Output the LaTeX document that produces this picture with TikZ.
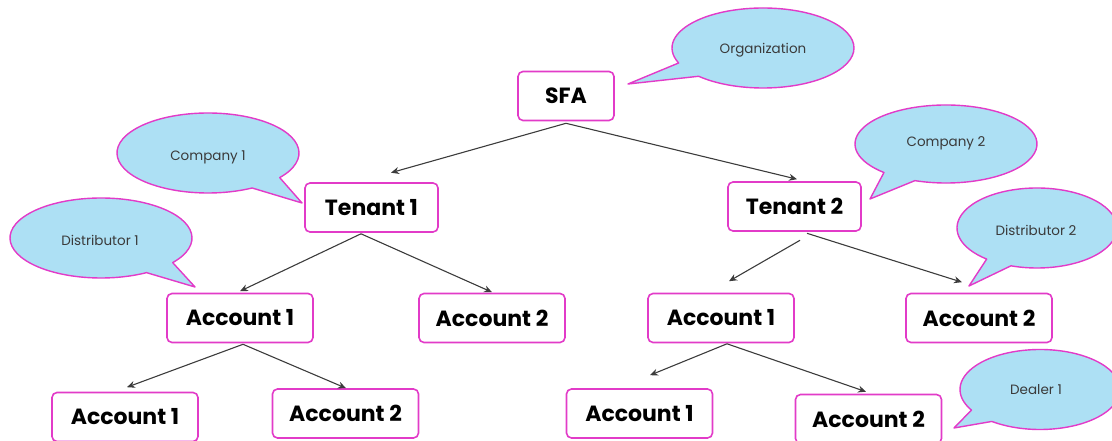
\documentclass[tikz,border=0pt]{standalone}
\usepackage{fontspec}
\setmainfont{Poppins}
\usetikzlibrary{arrows.meta,calc}

\definecolor{rim}{HTML}{E23BC8}
\definecolor{sky}{HTML}{ADE0F4}
\definecolor{ink}{HTML}{3A3A3A}
\definecolor{wire}{HTML}{3C3C3C}

\tikzset{
  unit/.style={draw=rim, line width=1.6pt, rounded corners=5pt, fill=white,
    minimum height=49pt, inner sep=0pt, font=\fontsize{22}{24}\selectfont\bfseries},
  rootbox/.style={unit, minimum width=96pt},
  tenantbox/.style={unit, minimum width=133pt},
  accountbox/.style={unit, minimum width=146pt},
  callout/.style={draw=rim, fill=sky, line width=1.4pt, line join=round},
  calltext/.style={text=ink, font=\fontsize{13.5}{15}\selectfont},
  link/.style={draw=wire, line width=1.1pt, -{Stealth[length=8pt,width=7pt]}}
}

\begin{document}
\begin{tikzpicture}[x=1pt,y=1pt]
\useasboundingbox (0,0) rectangle (1112,441);

% hierarchy boxes
\node[rootbox]    (sfa) at (566,345)   {SFA};
\node[tenantbox]  (t1)  at (371.5,233.5) {Tenant 1};
\node[tenantbox]  (t2)  at (794.5,234.5) {Tenant 2};
\node[accountbox] (a1)  at (240,123)   {Account 1};
\node[accountbox] (a2)  at (492,123)   {Account 2};
\node[accountbox] (b1)  at (721,123)   {Account 1};
\node[accountbox] (b2)  at (979,123)   {Account 2};
\node[accountbox] (c1)  at (125,24)    {Account 1};
\node[accountbox] (c2)  at (345.5,27.5) {Account 2};
\node[accountbox] (d1)  at (639.5,27.5) {Account 1};
\node[accountbox] (d2)  at (868.5,22)  {Account 2};

% arrow end points beside the boxes
\coordinate (sfaout) at ($(sfa.south)+(0,-2)$);
\coordinate (t1in)  at ($(t1.north)+(19.5,9.5)$);
\coordinate (t2in)  at ($(t2.north)+(2.5,2)$);
\coordinate (t1out) at ($(t1.south)+(-10.5,-1)$);
\coordinate (a1in)  at ($(a1.north)+(0,1.5)$);
\coordinate (a2in)  at ($(a2.north)+(0,0.5)$);
\coordinate (t2outa) at ($(t2.south)+(5.5,-8.5)$);
\coordinate (t2outb) at ($(t2.south)+(12.5,-1.5)$);
\coordinate (b1in)  at ($(b1.north)+(8,11.5)$);
\coordinate (b2in)  at ($(b2.north)+(-17,10.5)$);
\coordinate (a1out) at ($(a1.south)+(3,-1)$);
\coordinate (c1in)  at ($(c1.north)+(2,4.5)$);
\coordinate (c2in)  at ($(c2.north)+(0.5,0)$);
\coordinate (b1out) at ($(b1.south)+(6,-0.5)$);
\coordinate (d1in)  at ($(d1.north)+(10.5,13)$);
\coordinate (d2in)  at ($(d2.north)+(-2.5,2)$);

% connectors
\draw[link] (sfaout) -- (t1in);
\draw[link] (sfaout) -- (t2in);
\draw[link] (t1out) -- (a1in);
\draw[link] (t1out) -- (a2in);
\draw[link] (t2outa) -- (b1in);
\draw[link] (t2outb) -- (b2in);
\draw[link] (a1out) -- (c1in);
\draw[link] (a1out) -- (c2in);
\draw[link] (b1out) -- (d1in);
\draw[link] (b1out) -- (d2in);

% speech bubbles: ellipse with a pointed tail
\coordinate (orgc) at (763,393);   \coordinate (orgtip) at (628,357);
\coordinate (co1c) at (208,288);   \coordinate (co1tip) at (302,238);
\coordinate (di1c) at (101,203);   \coordinate (di1tip) at (195,154);
\coordinate (co2c) at (946,297);   \coordinate (co2tip) at (870,242);
\coordinate (di2c) at (1037,213);  \coordinate (di2tip) at (969,155);
\coordinate (deac) at (1040,51.5); \coordinate (deatip) at (954,13);

\path[callout] (orgc) ++(225:91 and 40) arc[start angle=225, end angle=562, x radius=91, y radius=40] -- (orgtip) -- cycle;
\path[callout] (co1c) ++(322:91 and 40) arc[start angle=322, end angle=659, x radius=91, y radius=40] -- (co1tip) -- cycle;
\path[callout] (di1c) ++(322:91 and 40) arc[start angle=322, end angle=660, x radius=91, y radius=40] -- (di1tip) -- cycle;
\path[callout] (co2c) ++(250:91 and 39) arc[start angle=250, end angle=587, x radius=91, y radius=39] -- (co2tip) -- cycle;
\path[callout] (di2c) ++(251:80 and 40) arc[start angle=251, end angle=591, x radius=80, y radius=40] -- (di2tip) -- cycle;
\path[callout] (deac) ++(233:80 and 40) arc[start angle=233, end angle=571, x radius=80, y radius=40] -- (deatip) -- cycle;

\node[calltext] (org) at (763,391) {Organization};
\node[calltext] (co1) at (208,284) {Company 1};
\node[calltext] (di1) at (100,201) {Distributor 1};
\node[calltext] (co2) at (946,298) {Company 2};
\node[calltext] (di2) at (1036,211) {Distributor 2};
\node[calltext] (dea) at (1036,51) {Dealer 1};
\end{tikzpicture}
\end{document}
